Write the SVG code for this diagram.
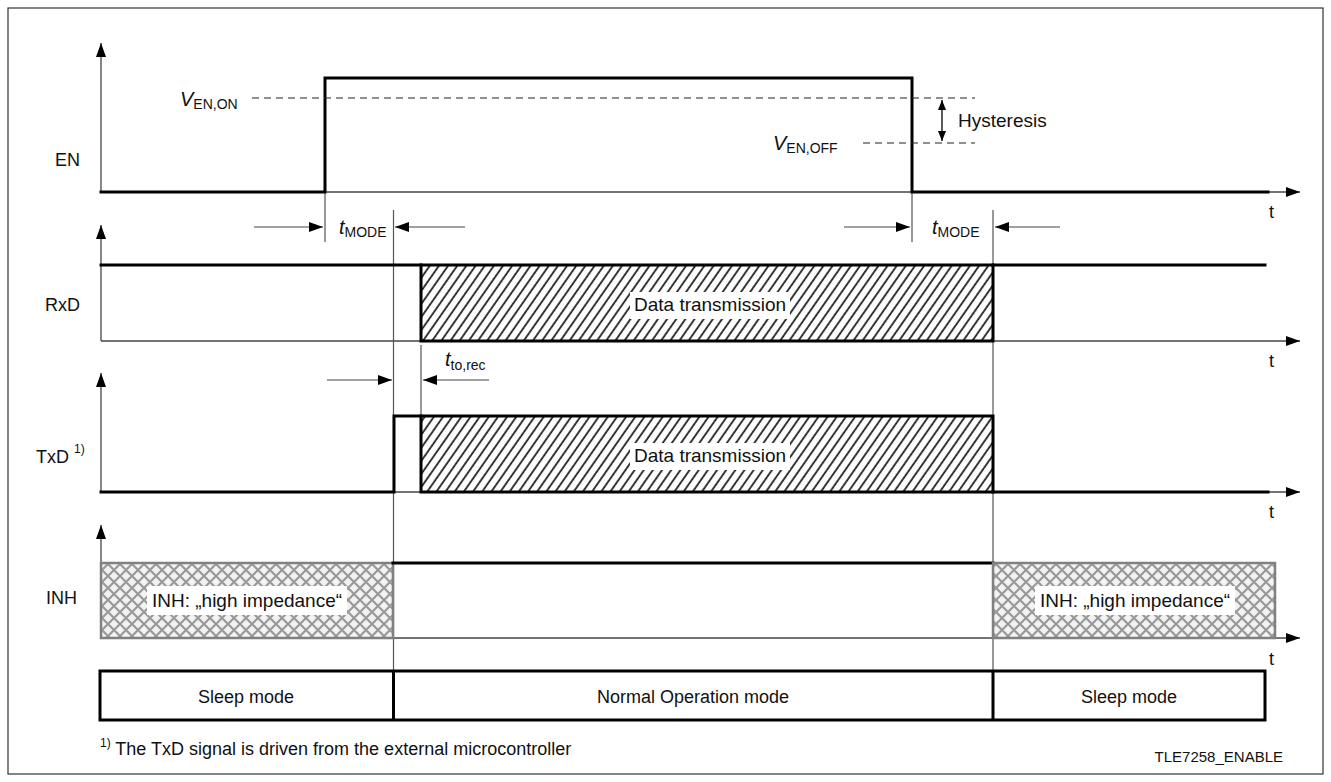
<svg xmlns="http://www.w3.org/2000/svg" width="1331" height="782" viewBox="0 0 1331 782">
<defs>
<style>
text{font-family:"Liberation Sans",Arial,sans-serif;fill:#111;}
.lbl{font-size:18px;}
.big{font-size:19px;}
.it{font-style:italic;font-size:20px;}
.sub{font-size:14px;font-style:normal;}
.axis{stroke:#444;stroke-width:1.3;fill:none;}
.sig{stroke:#000;stroke-width:3;fill:none;stroke-linejoin:miter;stroke-linecap:square;}
.thin{stroke:#555;stroke-width:1.2;fill:none;}
.dash{stroke:#222;stroke-width:1.2;stroke-dasharray:7,5;fill:none;}
.dim{stroke:#444;stroke-width:1.2;fill:none;marker-end:url(#ah);}
.ctr{text-anchor:middle;}
</style>
<marker id="ah" viewBox="0 0 14 10" refX="14" refY="5" markerWidth="14" markerHeight="10" markerUnits="userSpaceOnUse" orient="auto">
<path d="M0,0 L14,5 L0,10 z" fill="#000"/>
</marker>
<marker id="hs" viewBox="0 0 10 8" refX="10" refY="4" markerWidth="10" markerHeight="8" markerUnits="userSpaceOnUse" orient="auto-start-reverse">
<path d="M0,0 L10,4 L0,8 z" fill="#000"/>
</marker>
<pattern id="hatch" width="7.5" height="10" patternUnits="userSpaceOnUse" patternTransform="rotate(35)">
<rect width="7.5" height="10" fill="#fff"/>
<line x1="2" y1="0" x2="2" y2="10" stroke="#222" stroke-width="1.8"/>
</pattern>
<pattern id="cross" width="12" height="12" patternUnits="userSpaceOnUse">
<rect width="12" height="12" fill="#f2f2f2"/>
<path d="M0,0 L12,12 M12,0 L0,12" stroke="#9a9a9a" stroke-width="2.2"/>
</pattern>
</defs>

<rect id="frame" x="8" y="8" width="1315" height="766" fill="#fff" stroke="#333" stroke-width="1.2"/>

<g id="labels">
<text class="lbl" x="55" y="166">EN</text>
<text class="lbl" x="45" y="311">RxD</text>
<text class="lbl" x="36" y="463">TxD <tspan font-size="12" dy="-10">1)</tspan></text>
<text class="lbl" x="46" y="604">INH</text>
</g>

<g id="axes">
<line class="axis" x1="101" y1="192" x2="101" y2="43" marker-end="url(#ah)"/>
<line class="axis" x1="101" y1="192" x2="1300" y2="192" marker-end="url(#ah)"/>
<line class="axis" x1="101" y1="341" x2="101" y2="225" marker-end="url(#ah)"/>
<line class="axis" x1="101" y1="341" x2="1300" y2="341" marker-end="url(#ah)"/>
<line class="axis" x1="101" y1="492" x2="101" y2="373" marker-end="url(#ah)"/>
<line class="axis" x1="101" y1="492" x2="1300" y2="492" marker-end="url(#ah)"/>
<line class="axis" x1="101" y1="638" x2="101" y2="525" marker-end="url(#ah)"/>
<line class="axis" x1="101" y1="638" x2="1300" y2="638" marker-end="url(#ah)"/>
<text class="lbl" x="1269" y="218">t</text>
<text class="lbl" x="1269" y="367">t</text>
<text class="lbl" x="1269" y="518">t</text>
<text class="lbl" x="1269" y="665">t</text>
</g>

<g id="guides">
<line class="thin" x1="393.5" y1="210" x2="393.5" y2="671"/>
<line class="thin" x1="993" y1="210" x2="993" y2="671"/>
<line class="thin" x1="325" y1="192" x2="325" y2="242"/>
<line class="thin" x1="912" y1="192" x2="912" y2="242"/>
<line class="thin" x1="421" y1="345" x2="421" y2="416"/>
</g>

<g id="EN">
<polyline class="sig" points="101,192 325,192 325,78 912,78 912,192 1268,192"/>
<line class="dash" x1="252" y1="98" x2="975" y2="98"/>
<line class="dash" x1="863" y1="143" x2="975" y2="143"/>
<line stroke="#000" stroke-width="1.3" x1="942" y1="100" x2="942" y2="141" marker-start="url(#hs)" marker-end="url(#hs)"/>
<text class="big" x="958" y="127">Hysteresis</text>
<text class="it" x="180" y="106">V<tspan class="sub" dy="3">EN,ON</tspan></text>
<text class="it" x="773" y="150">V<tspan class="sub" dy="3">EN,OFF</tspan></text>
</g>

<g id="RxD">
<polyline class="sig" points="101,265 421,265"/>
<rect x="421" y="265" width="572" height="76" fill="url(#hatch)" stroke="#000" stroke-width="3"/>
<polyline class="sig" points="993,265 1265,265"/>
<rect x="630" y="292" width="160" height="27" fill="#fff"/>
<text class="big ctr" x="710" y="311">Data transmission</text>
</g>

<g id="TxD">
<polyline class="sig" points="101,492 394,492 394,416 421,416"/>
<rect x="421" y="416" width="572" height="76" fill="url(#hatch)" stroke="#000" stroke-width="3"/>
<polyline class="sig" points="993,492 1268,492"/>
<rect x="630" y="443" width="160" height="27" fill="#fff"/>
<text class="big ctr" x="710" y="462">Data transmission</text>
</g>

<g id="INH">
<rect x="101" y="563" width="292" height="75" fill="url(#cross)" stroke="#808080" stroke-width="2.5"/>
<rect x="147" y="586" width="200" height="29" fill="#fff"/>
<text class="big ctr" x="247" y="607">INH: „high impedance“</text>
<polyline class="sig" points="393,563 993,563"/>
<rect x="993" y="563" width="282" height="75" fill="url(#cross)" stroke="#808080" stroke-width="2.5"/>
<rect x="1035" y="586" width="200" height="29" fill="#fff"/>
<text class="big ctr" x="1135" y="607">INH: „high impedance“</text>
</g>

<g id="dimensions">
<line class="dim" x1="254" y1="227" x2="323" y2="227"/>
<line class="dim" x1="465" y1="227" x2="395" y2="227"/>
<text class="it" x="339" y="234">t<tspan class="sub" dy="3">MODE</tspan></text>
<line class="dim" x1="844" y1="227" x2="910" y2="227"/>
<line class="dim" x1="1060" y1="227" x2="995" y2="227"/>
<text class="it" x="932" y="234">t<tspan class="sub" dy="3">MODE</tspan></text>
<line class="dim" x1="327" y1="380" x2="392" y2="380"/>
<line class="dim" x1="489" y1="380" x2="423" y2="380"/>
<text class="it" x="445" y="366">t<tspan class="sub" dy="4">to,rec</tspan></text>
</g>

<g id="modes">
<rect x="100" y="671" width="1165" height="49" fill="none" stroke="#000" stroke-width="3"/>
<line stroke="#000" stroke-width="3" x1="393.5" y1="671" x2="393.5" y2="720"/>
<line stroke="#000" stroke-width="3" x1="993" y1="671" x2="993" y2="720"/>
<text class="lbl ctr" x="246" y="703">Sleep mode</text>
<text class="lbl ctr" x="693" y="703">Normal Operation mode</text>
<text class="lbl ctr" x="1129" y="703">Sleep mode</text>
</g>

<g id="footer">
<text class="lbl" x="100" y="755"><tspan font-size="12" dy="-8">1)</tspan><tspan dy="8"> The TxD signal is driven from the external microcontroller</tspan></text>
<text x="1283" y="762" font-size="15" text-anchor="end">TLE7258_ENABLE</text>
</g>
</svg>
